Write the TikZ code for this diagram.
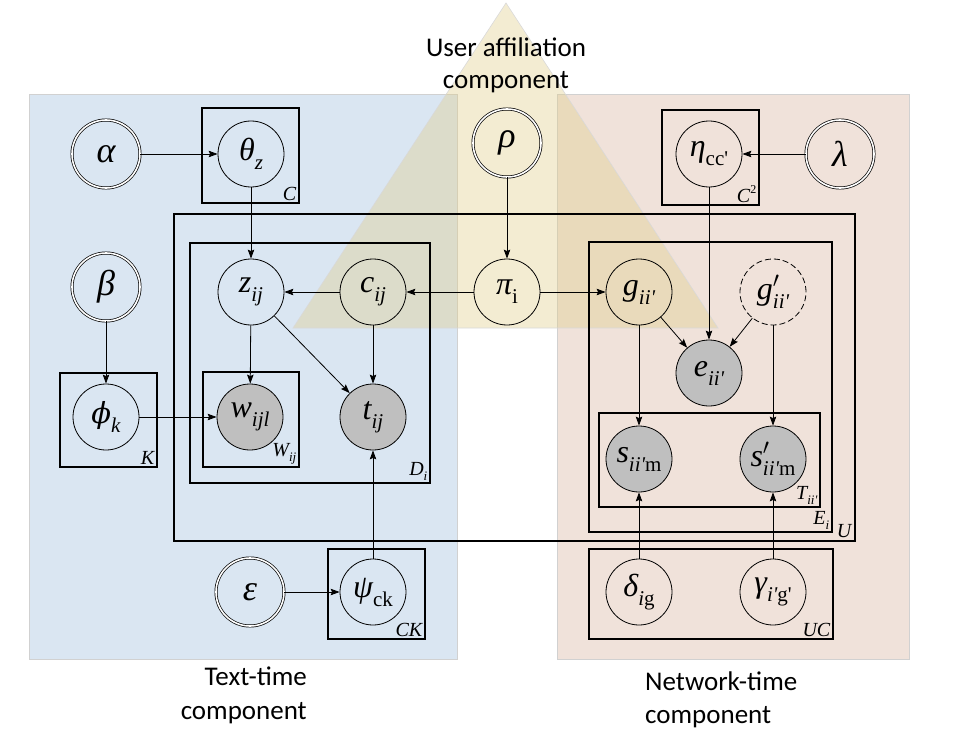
\documentclass[tikz,border=0pt]{standalone}
\usepackage{fix-cm}
\usepackage{fontspec}
\setmainfont{Liberation Serif}
\newfontfamily\calibri{Carlito}
\newfontfamily\djv{DejaVu Serif}
\usetikzlibrary{arrows.meta}
\definecolor{bluebg}{RGB}{218,230,242}
\definecolor{pinkbg}{RGB}{240,226,218}
\definecolor{trifill}{RGB}{224,205,137}
\definecolor{obsgray}{RGB}{191,191,191}
\newcommand\subx[1]{\raisebox{-0.28em}{\fontsize{21}{22}\selectfont #1}}
\newcommand\psub[1]{\raisebox{-0.25em}{\fontsize{13}{14}\selectfont #1}}
\newcommand\qs{\textquotesingle}
\begin{document}
\begin{tikzpicture}[x=1pt,y=-1pt,
  var/.style={circle, draw, line width=0.8pt, minimum size=66pt, inner sep=0pt,
    font=\fontsize{32}{34}\selectfont\itshape},
  obs/.style={var, fill=obsgray},
  hidvar/.style={var, dash pattern=on 6pt off 3pt},
  hyper/.style={circle, draw, double, double distance=1.6pt, line width=0.7pt,
    minimum size=68pt, inner sep=0pt, font=\fontsize{36}{38}\selectfont\itshape},
  plate/.style={draw, line width=2pt},
  platelabel/.style={anchor=south east, inner sep=1.5pt,
    font=\fontsize{20}{22}\selectfont\itshape},
  edge/.style={-{Stealth[length=9pt,width=6.5pt,inset=1.5pt]}, line width=0.8pt},
  comptext/.style={font=\calibri\fontsize{27}{32}\selectfont, inner sep=0pt}
]
\useasboundingbox (0,0) rectangle (966,730);

% component backgrounds
\draw[fill=bluebg, draw=black!18, line width=0.8pt] (29,94) rectangle (457,659);
\draw[fill=pinkbg, draw=black!18, line width=0.8pt] (557,94) rectangle (909,659);
\draw[fill=trifill, fill opacity=0.38, draw=black!15, line width=0.6pt]
  (506,3) -- (718,328) -- (293,328) -- cycle;

% plates
\draw[plate] (202,108) rectangle (299,203);
\node[platelabel] (lC) at (298,202) {C};
\draw[plate] (662,110) rectangle (759,205);
\node[platelabel] (lC2) at (758,204) {C\raisebox{0.45em}{\fontsize{12}{13}\selectfont\upshape 2}};
\draw[plate] (174,214) rectangle (855,541);
\node[platelabel] (lU) at (853,539) {U};
\draw[plate] (190,243) rectangle (430,483);
\node[platelabel] (lD) at (429,482) {D\psub{i}};
\draw[plate] (589,242) rectangle (832,532);
\node[platelabel] (lE) at (831,531) {E\psub{i}};
\draw[plate] (60,373) rectangle (157,467);
\node[platelabel] (lK) at (156,466) {K};
\draw[plate] (203,372) rectangle (299,467);
\node[platelabel] (lW) at (298,466) {W\psub{ij}};
\draw[plate] (599,413) rectangle (820,507);
\node[platelabel] (lT) at (819,506) {T\psub{ii\qs}};
\draw[plate] (328,549) rectangle (425,639);
\node[platelabel] (lCK) at (424,638) {CK};
\draw[plate] (589,549) rectangle (833,639);
\node[platelabel] (lUC) at (832,638) {UC};

% nodes
\node[hyper] (alpha) at (106,154) {α};
\node[var] (theta) at (251,154) {θ\subx{z}};
\node[hyper] (beta) at (106,287) {β};
\node[var] (z) at (251,292) {z\subx{ij}};
\node[var] (c) at (373,292) {c\subx{ij}};
\node[hyper] (rho) at (507,143) {ρ};
\node[var] (pi) at (507,292) {π\subx{\upshape i}};
\node[var] (eta) at (709,154) {η\subx{\upshape cc\qs}};
\node[hyper] (lambda) at (840,154) {λ};
\node[var] (g) at (639,292) {g\subx{ii\qs}};
\node[hidvar] (gp) at (773,292) {g\rlap{$'$}\subx{ii\qs}};
\node[obs] (e) at (709,373) {e\subx{ii\qs}};
\node[obs] (s) at (639,459) {s\subx{ii\qs\upshape m}};
\node[obs] (sp) at (773,459) {s\rlap{$'$}\subx{ii\qs\upshape m}};
\node[var] (delta) at (639,592) {δ\subx{i\upshape g}};
\node[var] (gamma) at (773,592) {γ\subx{i\qs\upshape g\qs}};
\node[var] (phi) at (106,417) {{\djv\fontsize{29}{32}\selectfont ϕ}\subx{k}};
\node[obs] (w) at (250,417) {w\subx{ijl}};
\node[obs] (t) at (373,417) {t\subx{ij}};
\node[hyper] (eps) at (250,592) {ε};
\node[var] (psi) at (373,592) {ψ\subx{\upshape ck}};

% edges
\draw[edge] (alpha) -- (theta);
\draw[edge] (theta) -- (z);
\draw[edge] (c) -- (z);
\draw[edge] (pi) -- (c);
\draw[edge] (rho) -- (pi);
\draw[edge] (pi) -- (g);
\draw[edge] (z) -- (w);
\draw[edge] (z) -- (t);
\draw[edge] (c) -- (t);
\draw[edge] (beta) -- (phi);
\draw[edge] (phi) -- (w);
\draw[edge] (psi) -- (t);
\draw[edge] (eps) -- (psi);
\draw[edge] (lambda) -- (eta);
\draw[edge] (eta) -- (e);
\draw[edge] (g) -- (e);
\draw[edge] (gp) -- (e);
\draw[edge] (g) -- (s);
\draw[edge] (gp) -- (sp);
\draw[edge] (delta) -- (s);
\draw[edge] (gamma) -- (sp);

% component titles
\node[comptext, anchor=base] (ua1) at (506,57) {User affiliation};
\node[comptext, anchor=base] (ua2) at (506,89) {component};
\node[comptext, anchor=base east] (tt1) at (307,685) {Text-time};
\node[comptext, anchor=base east] (tt2) at (307,719) {component};
\node[comptext, anchor=base west] (nt1) at (645,690) {Network-time};
\node[comptext, anchor=base west] (nt2) at (645,723) {component};
\end{tikzpicture}
\end{document}
